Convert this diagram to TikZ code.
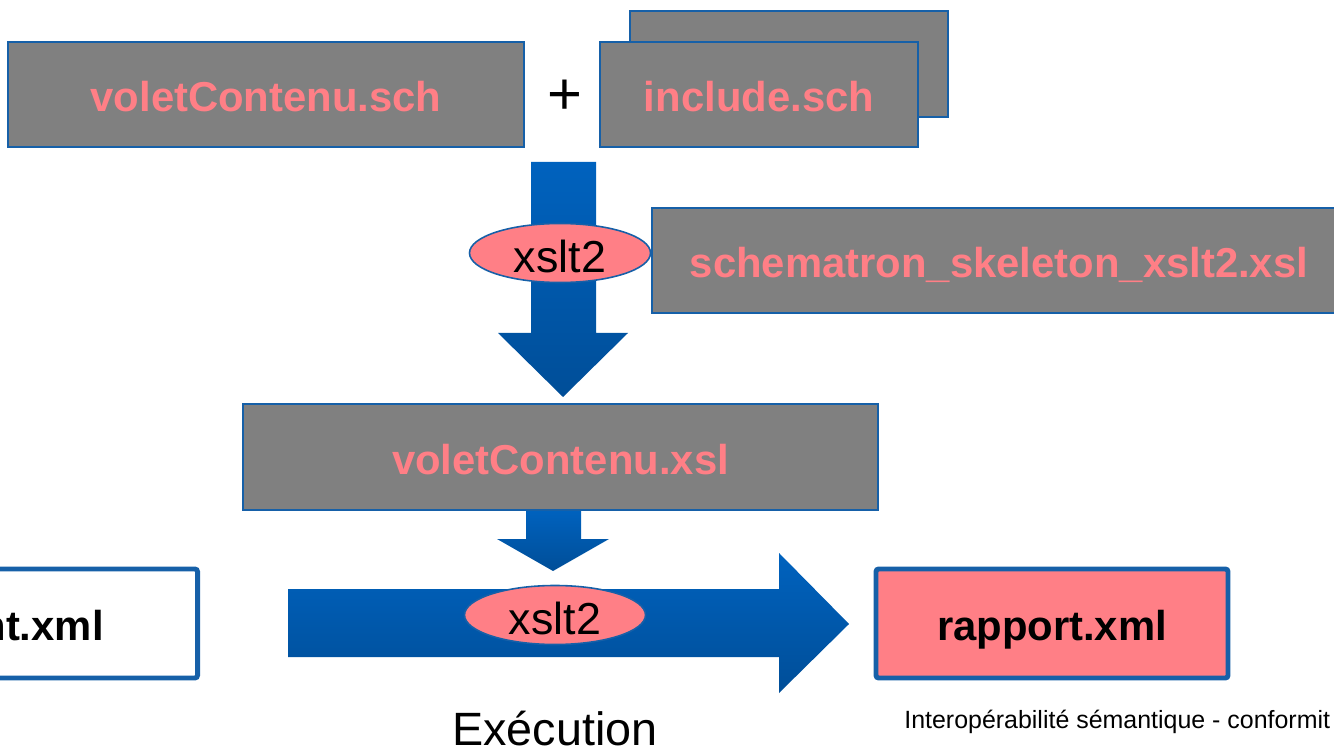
\documentclass[tikz,border=0pt]{standalone}
\usepackage{fontspec}
\setmainfont{Liberation Sans}
\usetikzlibrary{shapes.geometric}
\definecolor{boxgray}{HTML}{808080}
\definecolor{labelpink}{HTML}{FF7F86}
\definecolor{edgeblue}{HTML}{1660A8}
\definecolor{arrowtop}{HTML}{0062BE}
\definecolor{arrowbot}{HTML}{004E98}
\newlength\pxu
\setlength\pxu{0.02cm}
\tikzset{
  srcbox/.style={draw=edgeblue, line width=1.2pt, fill=boxgray, text=labelpink,
    font=\bfseries\fontsize{23.8}{28}\selectfont, inner sep=0pt,
    text height=19.6pt, text depth=0pt},
  resbox/.style={draw=edgeblue, line width=2.8pt, rounded corners=1.5pt, inner sep=0pt,
    font=\bfseries\fontsize{23.8}{28}\selectfont, text height=18.8pt, text depth=0pt},
  procell/.style={ellipse, draw=edgeblue, line width=0.9pt, fill=labelpink, inner sep=0pt,
    minimum width=181*\pxu, minimum height=59*\pxu,
    font=\fontsize{25.5}{30}\selectfont, text height=21.8pt, text depth=0pt},
  bigarrow/.style={top color=arrowtop, bottom color=arrowbot}
}
\begin{document}
\begin{tikzpicture}[x=\pxu, y=-\pxu]
\useasboundingbox (0,0) rectangle (1334,749);
% block arrows
\shade[bigarrow] (531,162) -- (596,162) -- (596,333) -- (628,333) -- (563,397)
  -- (498,333) -- (531,333) -- cycle;
\shade[bigarrow] (526,510) -- (581,510) -- (581,539) -- (609,539) -- (553,571)
  -- (497,539) -- (526,539) -- cycle;
\shade[bigarrow] (288,589) -- (779,589) -- (779,553) -- (849,624) -- (779,693)
  -- (779,657) -- (288,657) -- cycle;
% sources
\node[srcbox, minimum width=516*\pxu, minimum height=105*\pxu] (volsch) at (266,94.5) {voletContenu.sch};
\node[font=\fontsize{34}{40}\selectfont] (plus) at (565,97) {+};
\node[srcbox, minimum width=318*\pxu, minimum height=106*\pxu] (incback) at (789,64) {};
\node[srcbox, minimum width=318*\pxu, minimum height=105*\pxu] (incsch) at (759,94.5) {include.sch};
% compilation
\node[procell] (xsltA) at (560,253) {xslt2};
\node[srcbox, minimum width=694*\pxu, minimum height=105*\pxu] (skel) at (999,260.5) {schematron\_skeleton\_xslt2.xsl};
\node[srcbox, minimum width=635*\pxu, minimum height=106*\pxu] (volxsl) at (560.5,457) {voletContenu.xsl};
% execution
\node[resbox, fill=white, minimum width=420*\pxu, minimum height=109*\pxu, anchor=east] (docxml) at (200,623.5) {};
\node[font=\bfseries\fontsize{23.8}{28}\selectfont, anchor=base east, inner sep=0pt] (doclabel) at (104,640) {nt.xml};
\node[procell] (xsltB) at (555,615) {xslt2};
\node[resbox, fill=labelpink, minimum width=352*\pxu, minimum height=109*\pxu] (rapport) at (1052,623.5) {rapport.xml};
\node[font=\fontsize{26.6}{32}\selectfont, anchor=base, inner sep=0pt] (exec) at (555,745) {Exécution};
\node[font=\fontsize{14.2}{17}\selectfont, anchor=base west, inner sep=0pt] (footer) at (904,728) {Interopérabilité sémantique - conformit};
\end{tikzpicture}
\end{document}
